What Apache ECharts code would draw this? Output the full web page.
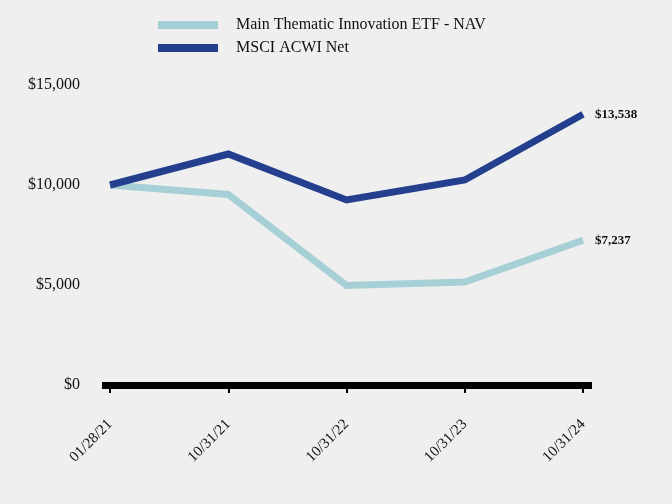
<!DOCTYPE html>
<html><head><meta charset="utf-8">
<script src="https://cdn.jsdelivr.net/npm/echarts@6/dist/echarts.min.js"></script>
<style>html,body{margin:0;padding:0;background:#efefef}#c{width:672px;height:504px}</style>
</head><body><div id="c"></div>
<script>
const categories = ['01/28/21','10/31/21','10/31/22','10/31/23','10/31/24'];
const fundName = 'Main Thematic Innovation ETF - NAV';
const fundValues = [10000, 9530, 4975, 5150, 7237];
const indexName = 'MSCI ACWI Net';
const indexValues = [10000, 11550, 9250, 10250, 13538];
const yTicks = [0, 5000, 10000, 15000];

const toPts = arr => arr.map((v, i) => [i, v]);
const fmt = v => '$' + Math.round(v).toLocaleString('en-US');
const serif = '"Liberation Serif", "DejaVu Serif", serif';

const chart = echarts.init(document.getElementById('c'), null, {renderer: 'canvas'});
chart.setOption({
  backgroundColor: '#efefef',
  animation: false,
  legend: {
    orient: 'vertical', left: 153, top: 12, itemWidth: 60, itemHeight: 8, itemGap: 7,
    icon: 'rect',
    textStyle: {fontFamily: serif, fontSize: 16, color: '#111', padding: [0, 0, 0, 13]},
    data: [fundName, indexName]
  },
  grid: {left: 102, right: 80, top: 85, bottom: 119, containLabel: false},
  xAxis: {
    type: 'value', min: -0.068, max: 4.076,
    axisLine: {show: true, lineStyle: {color: '#000', width: 7, cap: 'butt'}},
    axisTick: {show: true, customValues: [0,1,2,3,4], length: 8, lineStyle: {color: '#000', width: 2}},
    axisLabel: {customValues: [0,1,2,3,4], rotate: 45, margin: 37, fontFamily: serif, fontSize: 15, color: '#111',
      formatter: v => categories[Math.round(v)]},
    splitLine: {show: false}
  },
  yAxis: {
    type: 'value', min: yTicks[0], max: yTicks[yTicks.length-1], interval: 5000,
    axisLine: {show: false}, axisTick: {show: false}, splitLine: {show: false},
    axisLabel: {margin: 22, fontFamily: serif, fontSize: 16, color: '#111', formatter: v => fmt(v)}
  },
  series: [
    {name: fundName, type: 'line', data: toPts(fundValues), symbol: 'none', color: '#a6d0d6',
     lineStyle: {width: 7, color: '#a6d0d6', join: 'miter', cap: 'butt'},
     endLabel: {show: true, distance: 12, fontFamily: serif, fontWeight: 'bold', fontSize: 13, color: '#111',
       formatter: p => fmt(p.value[1])}},
    {name: indexName, type: 'line', data: toPts(indexValues), symbol: 'none', color: '#233f8e',
     lineStyle: {width: 7, color: '#233f8e', join: 'miter', cap: 'butt'},
     endLabel: {show: true, distance: 12, fontFamily: serif, fontWeight: 'bold', fontSize: 13, color: '#111',
       formatter: p => fmt(p.value[1])}}
  ]
});
</script></body></html>
